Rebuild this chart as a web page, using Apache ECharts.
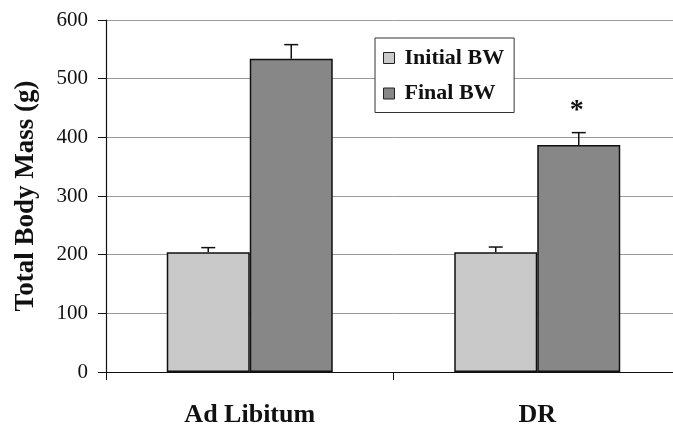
<!DOCTYPE html>
<html>
<head>
<meta charset="utf-8">
<script src="https://cdn.jsdelivr.net/npm/echarts@6/dist/echarts.min.js"></script>
<style>
  html, body { margin: 0; padding: 0; background: #fff; overflow: hidden; }
  /* plot runs a little past the right edge, as in the scanned figure */
  #chart { width: 681px; height: 428px; }
</style>
</head>
<body>
<div id="chart"></div>
<script>
var groups = ['Ad Libitum', 'DR'];
var initialBW = [204, 204];
var finalBW = [534, 387];
var initialErr = [8, 9];
var finalErr = [24, 21];
var finalSig = ['', '*'];
var yTicks = [0, 100, 200, 300, 400, 500, 600];

var serif = '"Liberation Serif", "DejaVu Serif", serif';
var chart = echarts.init(document.getElementById('chart'));

function errorBars(values, errs, offset, sig) {
  return {
    type: 'custom',
    z: 5,
    silent: true,
    data: values.map(function(v, i) { return [i, v, errs[i], sig ? sig[i] : '']; }),
    renderItem: function(params, api) {
      var i = api.value(0);
      var base = api.coord([i, api.value(1)]);
      var top = api.coord([i, api.value(1) + api.value(2)]);
      var x = base[0] + offset;
      var children = [
        { type: 'line', shape: { x1: x, y1: base[1], x2: x, y2: top[1] }, style: { stroke: '#111', lineWidth: 1.5 } },
        { type: 'line', shape: { x1: x - 7, y1: top[1], x2: x + 7, y2: top[1] }, style: { stroke: '#111', lineWidth: 1.5 } }
      ];
      var s = sig ? sig[params.dataIndex] : '';
      if (s) {
        children.push({ type: 'text', style: { text: s, x: x - 2, y: top[1] - 8, align: 'center', verticalAlign: 'bottom', font: 'bold 28px ' + serif, fill: '#111' } });
      }
      return { type: 'group', children: children };
    }
  };
}

var option = {
  animation: false,
  backgroundColor: '#fff',
  grid: { left: 106, right: 0, top: 20, bottom: 56 },
  legend: {
    data: ['Initial BW', 'Final BW'],
    orient: 'vertical',
    left: 375,
    top: 38,
    padding: [8, 10, 7, 8],
    itemGap: 11.5,
    itemWidth: 11,
    itemHeight: 11,
    icon: 'rect',
    backgroundColor: '#fff',
    borderColor: '#333',
    borderWidth: 1,
    borderRadius: 0,
    itemStyle: { borderColor: '#222', borderWidth: 1 },
    textStyle: { fontFamily: serif, fontWeight: 'bold', fontSize: 22, color: '#111', lineHeight: 24, padding: [0, 0, 0, 5] }
  },
  xAxis: {
    type: 'category',
    data: groups,
    axisLine: { lineStyle: { color: '#111', width: 1.2 } },
    axisTick: { show: true, length: 8, lineStyle: { color: '#111' } },
    axisLabel: { margin: 30, fontFamily: serif, fontWeight: 'bold', fontSize: 26, color: '#111' }
  },
  yAxis: {
    type: 'value',
    min: yTicks[0],
    max: yTicks[yTicks.length - 1],
    interval: 100,
    name: 'Total Body Mass (g)',
    nameLocation: 'middle',
    nameGap: 66,
    nameTextStyle: { fontFamily: serif, fontWeight: 'bold', fontSize: 27, color: '#111' },
    axisLine: { show: true, lineStyle: { color: '#111', width: 1.2 } },
    axisTick: { show: true, length: 8, lineStyle: { color: '#111' } },
    axisLabel: { margin: 18, fontFamily: serif, fontSize: 21, color: '#111' },
    splitLine: { lineStyle: { color: '#9a9a9a', width: 1 } }
  },
  series: [{
    name: 'Initial BW',
    type: 'bar',
    data: initialBW,
    barWidth: 83,
    barGap: '0%',
    itemStyle: { color: '#c9c9c9', borderColor: '#111', borderWidth: 1.5 }
  }, {
    name: 'Final BW',
    type: 'bar',
    data: finalBW,
    barWidth: 83,
    barGap: '0%',
    itemStyle: { color: '#878787', borderColor: '#111', borderWidth: 1.5 }
  },
  errorBars(initialBW, initialErr, -41.5),
  errorBars(finalBW, finalErr, 41.5, finalSig)]
};

chart.setOption(option);
</script>
</body>
</html>
